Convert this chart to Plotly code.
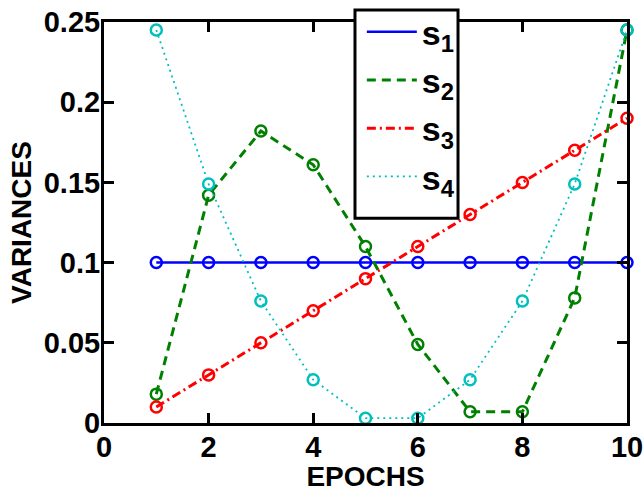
import plotly.graph_objects as go

epochs = [1, 2, 3, 4, 5, 6, 7, 8, 9, 10]
s1 = [0.1, 0.1, 0.1, 0.1, 0.1, 0.1, 0.1, 0.1, 0.1, 0.1]
s2 = [0.018, 0.142, 0.182, 0.161, 0.110, 0.049, 0.007, 0.007, 0.078, 0.245]
s3 = [0.01, 0.03, 0.05, 0.07, 0.09, 0.11, 0.13, 0.15, 0.17, 0.19]
s4 = [0.245, 0.149, 0.076, 0.027, 0.003, 0.003, 0.027, 0.076, 0.149, 0.245]

x_ticks = [0, 2, 4, 6, 8, 10]
y_ticks = [0, 0.05, 0.1, 0.15, 0.2, 0.25]
y_tick_labels = ["0", "0.05", "0.1", "0.15", "0.2", "0.25"]

series = [
    ("s<sub>1</sub>", s1, "#0000ff", "solid", 2.5),
    ("s<sub>2</sub>", s2, "#008000", "9px,6px", 3),
    ("s<sub>3</sub>", s3, "#ff0000", "9px,4px,2px,4px", 3),
    ("s<sub>4</sub>", s4, "#00bfbf", "2px,4px", 1.8),
]

FONT = "Liberation Sans, Arial, sans-serif"

fig = go.Figure()
for i, (name, ys, color, dash, w) in enumerate(series):
    fig.add_trace(go.Scatter(
        x=epochs, y=ys, name=name, mode="lines",
        line=dict(color=color, dash=dash, width=w),
        cliponaxis=False, legendgroup=f"g{i}",
    ))
    fig.add_trace(go.Scatter(
        x=epochs, y=ys, name=name, mode="markers", showlegend=False,
        marker=dict(symbol="circle-open", size=11, color=color, line=dict(width=2.5, color=color)),
        cliponaxis=False, legendgroup=f"g{i}",
    ))

axis_common = dict(
    showline=True, linecolor="black", linewidth=3, mirror="ticks",
    ticks="inside", ticklen=10, tickwidth=3, tickcolor="black",
    showgrid=False, zeroline=False, ticklabeloverflow="allow",
    tickfont=dict(family=FONT, size=29, color="black", weight="bold"),
)

fig.update_xaxes(
    range=[0, 10], tickvals=x_ticks, ticklabelstandoff=-4,
    title=dict(text="EPOCHS", font=dict(family=FONT, size=28, color="black", weight="bold"), standoff=0),
    **axis_common,
)
fig.update_yaxes(
    range=[0, 0.25], tickvals=y_ticks, ticktext=y_tick_labels, ticklabelstandoff=-5,
    title=dict(text="VARIANCES", font=dict(family=FONT, size=28, color="black", weight="bold"), standoff=4),
    **axis_common,
)

# legend frame (drawn over the data, like the reference's opaque legend box)
fig.add_shape(
    type="rect", xref="paper", yref="paper",
    x0=0.4799, x1=0.6769, y0=0.5107, y1=1.03,
    fillcolor="white", line=dict(color="black", width=3), layer="above",
)

fig.update_layout(
    width=643, height=492,
    margin=dict(l=104, r=16, t=22, b=69, autoexpand=False),
    plot_bgcolor="white", paper_bgcolor="white",
    showlegend=True,
    legend=dict(
        x=0.493, y=1.047, xanchor="left", yanchor="top",
        bgcolor="rgba(0,0,0,0)", borderwidth=0,
        font=dict(family=FONT, size=34, color="black", weight="bold"),
        traceorder="grouped", tracegroupgap=1, itemwidth=50,
    ),
)

fig.write_html("out.html", config={"displayModeBar": False},
               post_script="document.body.style.margin='0px';")
